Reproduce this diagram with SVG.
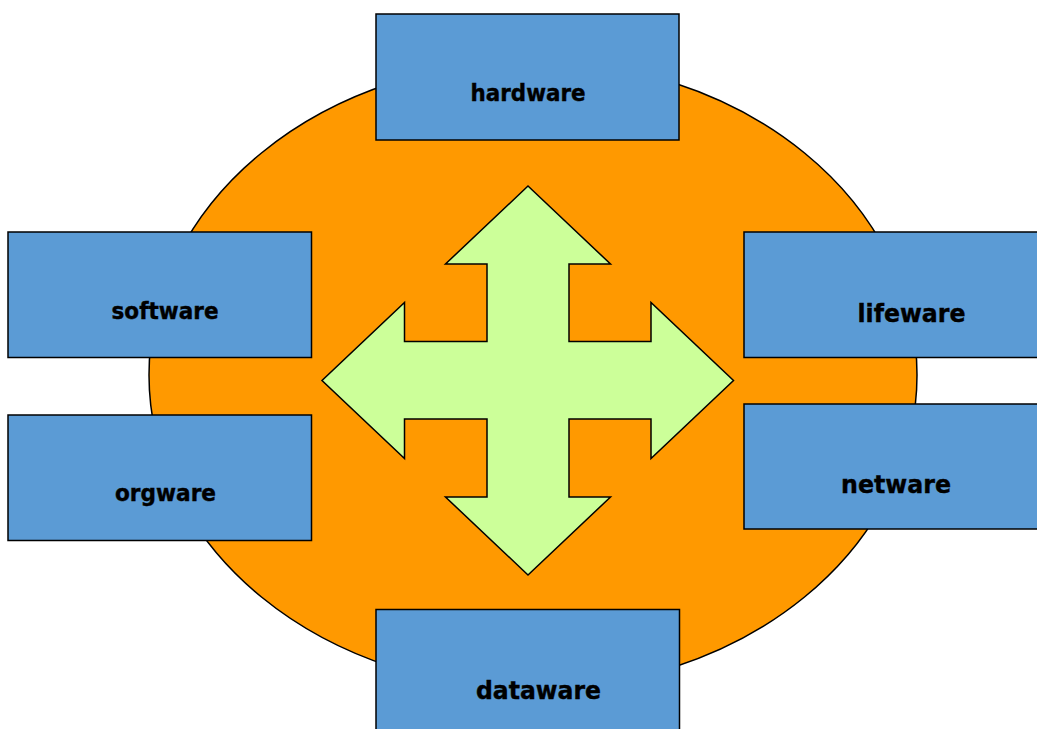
<svg xmlns="http://www.w3.org/2000/svg" width="1037" height="729" viewBox="0 0 1037 729">
<style>
.box{fill:#5B9BD5;stroke:#000;stroke-width:1.5}
.lbl{font-family:"DejaVu Sans",Verdana,sans-serif;font-weight:bold;font-size:23px;fill:#000;stroke:#000;stroke-width:0.4;text-anchor:middle}
.big{font-size:25.5px}
</style>
<rect width="1037" height="729" fill="#fff"/>
<ellipse id="circle" cx="533" cy="375" rx="384" ry="314" fill="#FF9900" stroke="#000" stroke-width="1.5"/>
<g id="cross-arrow">
<polygon points="528,186 610.5,264 569,264 569,341.5 651,341.5 651,302.5 733.5,380.5 651,458.5 651,419 569,419 569,497 610.5,497 528,575 445.5,497 487,497 487,419 404.5,419 404.5,458.5 322,380.5 404.5,302.5 404.5,341.5 487,341.5 487,264 445.5,264" fill="#CCFF99" stroke="#000" stroke-width="1.5"/>
</g>
<g id="connectors"/>
<g id="hardware"><rect class="box" x="376" y="14" width="303" height="126"/><text class="lbl" x="528" y="101" textLength="115" lengthAdjust="spacingAndGlyphs">hardware</text></g>
<g id="software"><rect class="box" x="8" y="232" width="303.5" height="125.5"/><text class="lbl" x="165" y="319" textLength="107" lengthAdjust="spacingAndGlyphs">software</text></g>
<g id="orgware"><rect class="box" x="8" y="415" width="303.5" height="125.5"/><text class="lbl" x="165.5" y="501" textLength="101" lengthAdjust="spacingAndGlyphs">orgware</text></g>
<g id="lifeware"><rect class="box" x="744" y="232" width="303" height="125.5"/><text class="lbl big" x="911.5" y="322" textLength="108" lengthAdjust="spacingAndGlyphs">lifeware</text></g>
<g id="netware"><rect class="box" x="744" y="404" width="303" height="125"/><text class="lbl big" x="896" y="493" textLength="110" lengthAdjust="spacingAndGlyphs">netware</text></g>
<g id="dataware"><rect class="box" x="376" y="609.5" width="303.5" height="126"/><text class="lbl big" x="538.5" y="699" textLength="125" lengthAdjust="spacingAndGlyphs">dataware</text></g>
</svg>
